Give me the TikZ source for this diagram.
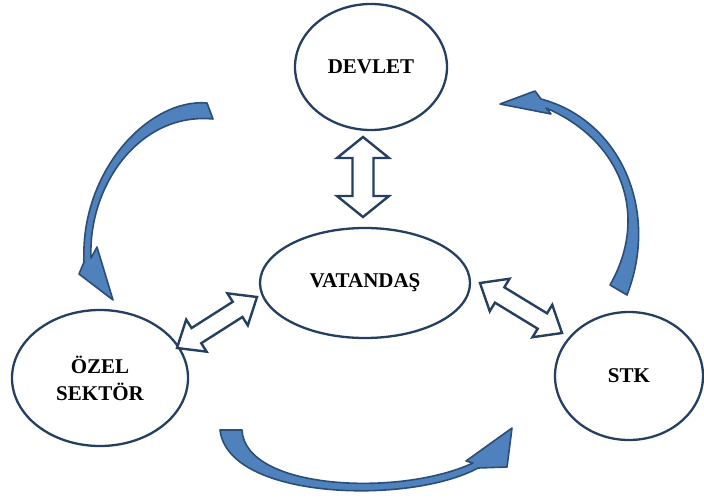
\documentclass[tikz,border=0pt]{standalone}
\usepackage{fontspec}
\setmainfont{Liberation Serif}
\usetikzlibrary{calc,shapes.geometric}
\definecolor{navy}{HTML}{243F60}
\definecolor{bluefill}{HTML}{4F81BD}
\definecolor{blueedge}{HTML}{2C4D75}
\tikzset{
  oval/.style={ellipse, draw=navy, line width=2.3pt, inner sep=0pt, fill=white,
    font=\fontsize{21}{27}\selectfont\bfseries, align=center},
  hollow/.style={draw=navy, line width=2.4pt, fill=white, line join=miter},
  bluearrow/.style={fill=bluefill, draw=blueedge, line width=1.6pt, line join=round}
}
% #1 from, #2 to, #3 shaft half width, #4 head half width, #5 head length
\newcommand\hollowdbl[5]{%
  \draw[hollow] (#1)
    -- ($(#1)!#5!(#2)!#4!90:(#2)$)
    -- ($(#1)!#5!(#2)!#3!90:(#2)$)
    -- ($(#2)!#5!(#1)!#3!-90:(#1)$)
    -- ($(#2)!#5!(#1)!#4!-90:(#1)$)
    -- (#2)
    -- ($(#2)!#5!(#1)!#4!90:(#1)$)
    -- ($(#2)!#5!(#1)!#3!90:(#1)$)
    -- ($(#1)!#5!(#2)!#3!-90:(#2)$)
    -- ($(#1)!#5!(#2)!#4!-90:(#2)$)
    -- cycle;}
\begin{document}
\begin{tikzpicture}[x=1pt,y=-1pt]
\useasboundingbox (0,0) rectangle (704,498);

% ovals
\node[oval, minimum width=152pt, minimum height=126pt] (dev) at (371,67) {DEVLET};
\node[oval, minimum width=210pt, minimum height=110pt] (vat) at (365,283) {VATANDAŞ};
\node[oval, minimum width=176pt, minimum height=136pt] (ozel) at (100,378) {ÖZEL\\SEKTÖR};
\node[oval, minimum width=148pt, minimum height=128pt] (stk) at (629,376) {STK};

% hollow double arrows
\coordinate (v1) at (363,137);
\coordinate (v2) at (363,217);
\coordinate (l1) at (257,297);
\coordinate (l2) at (177,348);
\coordinate (r1) at (480,283);
\coordinate (r2) at (562,333);
\hollowdbl{v1}{v2}{10.5pt}{26pt}{21pt}
\hollowdbl{l1}{l2}{9pt}{19pt}{23pt}
\hollowdbl{r1}{r2}{9pt}{19pt}{23pt}

% curved blue arrows
\draw[bluearrow] (207,103) .. controls (150,98) and (80,170) .. (84,262)
  -- (79,274) -- (113,300) -- (97,247) -- (91,258)
  .. controls (88,185) and (140,112) .. (213,119) -- cycle;
\draw[bluearrow] (610,285) .. controls (650,215) and (621,140) .. (546,108)
  -- (551,114) -- (500,104) -- (535,91) -- (541,99)
  .. controls (620,120) and (660,210) .. (627,295) -- cycle;
\draw[bluearrow] (220,430) .. controls (228,500) and (410,505) .. (478,468)
  -- (507,467) -- (512,428) -- (466,461) -- (473,463)
  .. controls (400,497) and (245,490) .. (242,430) -- cycle;
\end{tikzpicture}
\end{document}
